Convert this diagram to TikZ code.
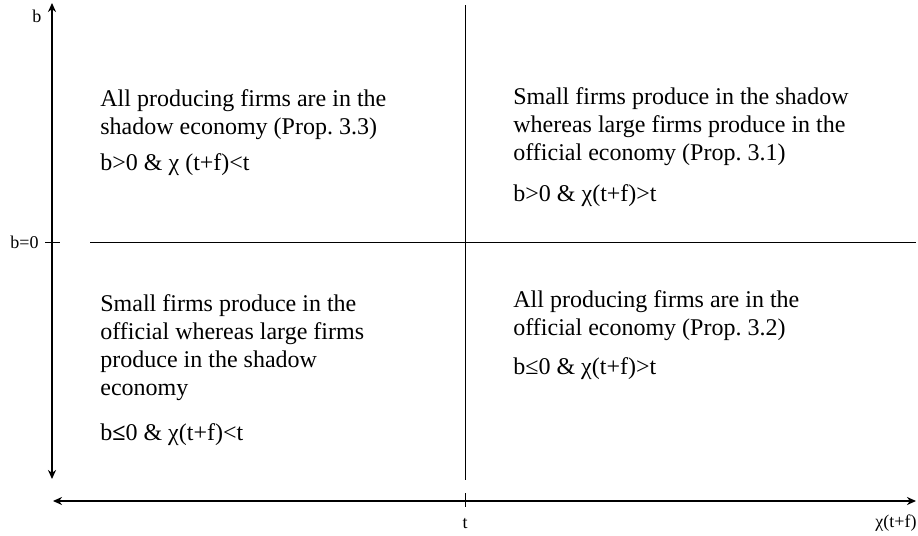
\documentclass[tikz,border=0pt]{standalone}
\usepackage{fontspec}
\setmainfont{Liberation Serif}
\usetikzlibrary{positioning,arrows.meta}
\frenchspacing

\begin{document}
\begin{tikzpicture}[x=0.5pt,y=-0.5pt,>={Stealth[length=4.5pt,width=4pt]},node distance=9pt,
  region/.style={anchor=north west,align=left,inner sep=0pt,font=\fontsize{12}{14}\selectfont},
  cond/.style={region},
  axis/.style={<->,line width=1pt},
  divider/.style={line width=0.45pt},
  axlabel/.style={inner sep=0pt,font=\fontsize{9}{11}\selectfont}]
\useasboundingbox (0,0) rectangle (918,536);
% axes
\coordinate (btop) at (52,3);
\coordinate (bbot) at (52,479);
\coordinate (xleft) at (53,501);
\coordinate (xright) at (916,501);
\draw[axis] (bbot) -- (btop);
\draw[axis] (xleft) -- (xright);
% ticks and dividing lines
\coordinate (b0l) at (45,242);
\coordinate (b0r) at (60,242);
\coordinate (tup) at (465,493);
\coordinate (tdown) at (465,507);
\coordinate (hleft) at (90,242);
\coordinate (hright) at (916,242);
\coordinate (vtop) at (465,5);
\coordinate (vbot) at (465,480);
\draw[divider] (b0l) -- (b0r);
\draw[divider] (tup) -- (tdown);
\draw[divider] (hleft) -- (hright);
\draw[divider] (vtop) -- (vbot);
% axis labels
\node[axlabel] (blab) at (37,16) {b};
\node[axlabel,anchor=east] (b0lab) at (39,242) {b=0};
\node[axlabel] (tlab) at (465,524) {t};
\node[axlabel,anchor=west] (xlab) at (875,523) {χ(t+f)};
% regions
\node[region] (tl) at (100,89) {All producing firms are in the\\shadow economy (Prop. 3.3)};
\node[cond,below=6.5pt of tl.south west,anchor=north west] (tlc) {b>0 \& χ (t+f)<t};
\node[region] (tr) at (513,87) {Small firms produce in the shadow\\whereas large firms produce in the\\official economy (Prop. 3.1)};
\node[cond,below=of tr.south west,anchor=north west] (trc) {b>0 \& χ(t+f)>t};
\node[region] (bl) at (100,294) {Small firms produce in the\\official whereas large firms\\produce in the shadow\\economy};
\node[cond,below=11pt of bl.south west,anchor=north west] (blc) {b\textbf{≤}0 \& χ(t+f)<t};
\node[region] (br) at (513,290) {All producing firms are in the\\official economy (Prop. 3.2)};
\node[cond,below=8pt of br.south west,anchor=north west] (brc) {b≤0 \& χ(t+f)>t};
\end{tikzpicture}
\end{document}
